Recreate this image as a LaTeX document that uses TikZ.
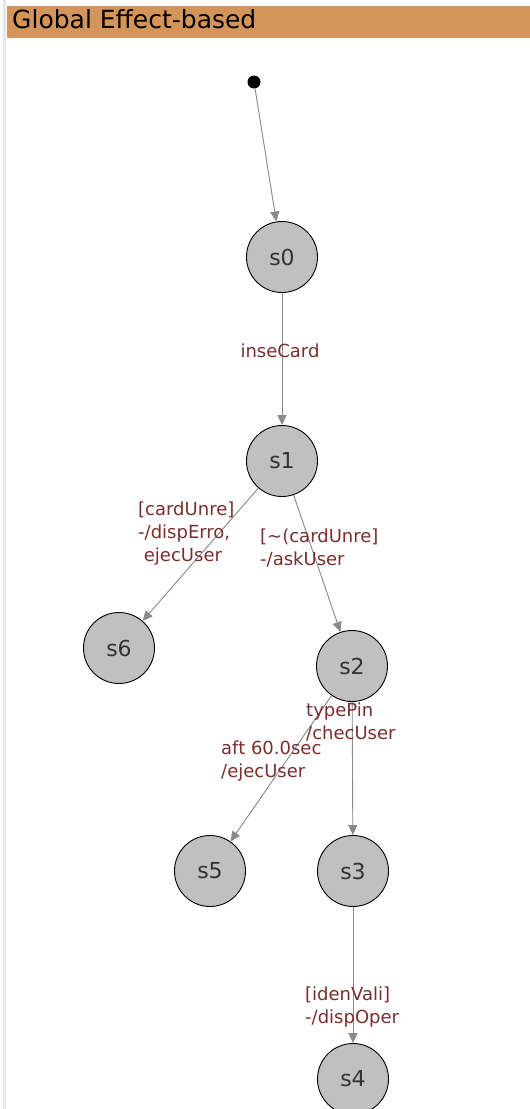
\documentclass[tikz,border=0pt]{standalone}
\usepackage{fontspec}
\setmainfont{DejaVu Sans}
\usetikzlibrary{arrows.meta}
\definecolor{barorange}{HTML}{D4955A}
\definecolor{lblred}{HTML}{7A2E2E}
\definecolor{edgegray}{HTML}{8A8A8A}
\definecolor{statefill}{HTML}{C0C0C0}
\definecolor{statetext}{HTML}{333333}
\definecolor{framegray}{HTML}{E4E7EC}
\begin{document}
\begin{tikzpicture}[x=1pt,y=-1pt,
  state/.style={circle,draw=black,line width=0.9pt,fill=statefill,minimum size=71pt,
    inner sep=0pt,text=statetext,font=\fontsize{22}{26}\selectfont},
  init/.style={circle,fill=black,minimum size=13pt,inner sep=0pt},
  trans/.style={draw=edgegray,line width=0.9pt,-{Triangle[length=10pt,width=9pt]},
    fill=edgegray},
  lbl/.style={text=lblred,font=\fontsize{18}{23}\selectfont,align=left,inner sep=0pt,
    anchor=north west}]
\useasboundingbox (0,0) rectangle (530,1109);
\fill[white] (0,0) rectangle (530,1109);
% panel frame and header
\fill[framegray] (3,0) rectangle (6,1109);
\fill[barorange] (7,6) rectangle (530,38);
\node[anchor=base west,inner sep=0pt,font=\fontsize{25}{30}\selectfont] (title) at (12,28) {Global Effect-based};

% states
\node[init] (i) at (254,82) {};
\node[state] (s0) at (282,257) {s0};
\node[state] (s1) at (282,461) {s1};
\node[state] (s6) at (119,648) {s6};
\node[state] (s2) at (352,666) {s2};
\node[state] (s5) at (210,871) {s5};
\node[state] (s3) at (353,871) {s3};
\node[state] (s4) at (353,1079) {s4};

% transitions
\draw[trans] (i) -- (s0);
\draw[trans] (s0) -- (s1);
\draw[trans] (s1) -- (s6);
\draw[trans] (s1) -- (s2);
\draw[trans] (s2) -- (s5);
\draw[trans] (s2) -- (s3);
\draw[trans] (s3) -- (s4);

% transition labels
\node[lbl,anchor=base] (l01) at (280,357) {inseCard};
\node[lbl] (l16) at (138,501.3) {[cardUnre]\\-/dispErro,\\\ ejecUser};
\node[lbl] (l12) at (260,528.3) {[\textasciitilde(cardUnre]\\-/askUser};
\node[lbl] (l23) at (306,702.3) {typePin\\/checUser};
\node[lbl] (l25) at (221,740.3) {aft 60.0sec\\/ejecUser};
\node[lbl] (l34) at (305,986.3) {[idenVali]\\-/dispOper};
\end{tikzpicture}
\end{document}
